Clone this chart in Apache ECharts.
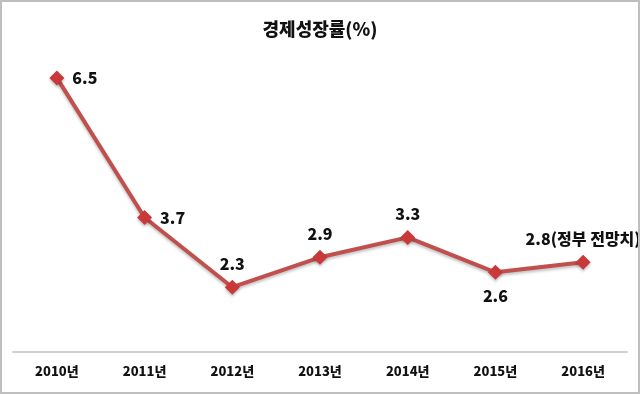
<!DOCTYPE html>
<html><head><meta charset="utf-8">
<script src="https://cdn.jsdelivr.net/npm/echarts@6/dist/echarts.min.js"></script>
<style>html,body{margin:0;padding:0;background:#fff}#c{width:640px;height:394px;box-sizing:border-box;border:2px solid #bfbfbf}</style>
</head><body><div id="c"></div>
<script>
const title = '경제성장률(%)';
const categories = ['2010년','2011년','2012년','2013년','2014년','2015년','2016년'];
const values = [6.5, 3.7, 2.3, 2.9, 3.3, 2.6, 2.8];
const labelTexts = ['6.5','3.7','2.3','2.9','3.3','2.6','2.8(정부 전망치)'];
const labelPos = ['right','right','top','top','top','bottom','top'];

const chart = echarts.init(document.getElementById('c'));
const font = '"Noto Sans CJK KR", sans-serif';
chart.setOption({
  animation: false,
  title: {text: title, left: 'center', top: 13, textStyle: {fontFamily: font, fontWeight: 900, fontSize: 18, color: '#111'}},
  grid: {left: 11, right: 11, top: 51, bottom: 40},
  xAxis: {type: 'category', data: categories, boundaryGap: true,
    axisLine: {lineStyle: {color: '#d0d0d0', width: 2}}, axisTick: {show: false},
    axisLabel: {fontFamily: font, fontWeight: 900, fontSize: 13, color: '#111', margin: 13}},
  yAxis: {type: 'value', min: 1, max: 7, show: false, splitLine: {show: false}},
  series: [{
    type: 'line', data: values.map((v, i) => ({value: v, label: {position: labelPos[i], formatter: labelTexts[i]}})),
    symbol: 'diamond', symbolSize: 15,
    lineStyle: {color: '#c0504d', width: 4, shadowColor: 'rgba(0,0,0,0.25)', shadowBlur: 3, shadowOffsetY: 2},
    itemStyle: {color: '#c9393a', shadowColor: 'rgba(0,0,0,0.25)', shadowBlur: 3, shadowOffsetY: 2},
    label: {show: true, fontFamily: font, fontWeight: 900, fontSize: 16, color: '#111', distance: 8}
  }]
});
</script></body></html>
